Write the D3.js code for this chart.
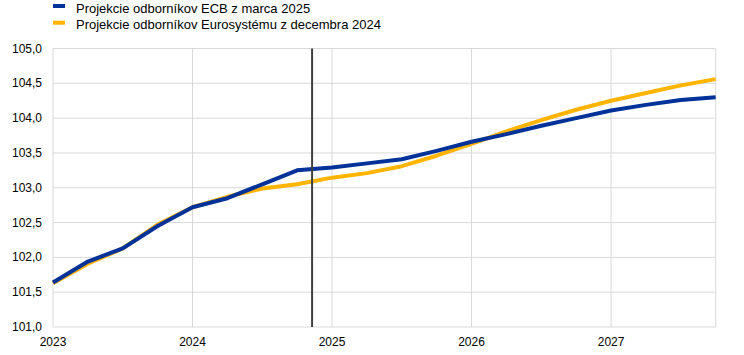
<!DOCTYPE html>
<html><head><meta charset="utf-8">
<script src="https://cdn.jsdelivr.net/npm/d3@7"></script>
<style>body{margin:0;background:#fff}svg{display:block}text{font-family:"Liberation Sans",Arial,sans-serif}</style>
</head><body><svg id="c" width="744" height="355"></svg>
<script>
const periods = d3.range(20).map(i => 2023 + i * 0.25); // quarterly, 2023Q1..2027Q4
const ecbMar2025 = [101.64,101.94,102.13,102.45,102.72,102.85,103.05,103.25,103.29,103.35,103.41,103.53,103.66,103.77,103.89,104.00,104.11,104.19,104.26,104.30];
const esDec2024  = [101.63,101.91,102.13,102.47,102.72,102.87,102.99,103.05,103.145,103.21,103.31,103.46,103.63,103.81,103.97,104.12,104.25,104.36,104.47,104.56];
const seriesNames = ["Projekcie odborníkov ECB z marca 2025","Projekcie odborníkov Eurosystému z decembra 2024"];
const xTicks = [2023,2024,2025,2026,2027];
const yTicks = [101,101.5,102,102.5,103,103.5,104,104.5,105];
const cutoff = 2024.857;

const svg = d3.select("#c");
const L=53,R=715.7,T=48.5,B=327;
const x = d3.scaleLinear().domain([2023,2027.75]).range([L,R]);
const y = d3.scaleLinear().domain([101,105]).range([B,T]);
const fmt = v => d3.format(".1f")(v).replace(".",",");
const grid="#d9d9d9";
const g = svg.append("g");
g.selectAll(".hg").data(yTicks).join("line").attr("x1",L).attr("x2",R).attr("y1",d=>y(d)).attr("y2",d=>y(d)).attr("stroke",grid).attr("stroke-width",1);
g.selectAll(".vg").data(xTicks.concat([2027.75])).join("line").attr("x1",d=>x(d)).attr("x2",d=>x(d)).attr("y1",T).attr("y2",B).attr("stroke",grid).attr("stroke-width",1);
g.selectAll(".yl").data(yTicks).join("text").attr("x",42).attr("y",d=>y(d)+4).attr("text-anchor","end").attr("font-size",12).attr("fill","#000").text(fmt);
g.selectAll(".xl").data(xTicks).join("text").attr("x",d=>x(d)).attr("y",346).attr("text-anchor","middle").attr("font-size",12).attr("fill","#000").text(d=>d);

const line = d3.line().x((d,i)=>x(periods[i])).y(d=>y(d)).curve(d3.curveLinear);
svg.append("path").attr("d",line(esDec2024)).attr("fill","none").attr("stroke","#FFB400").attr("stroke-width",4).attr("stroke-linejoin","round");
svg.append("path").attr("d",line(ecbMar2025)).attr("fill","none").attr("stroke","#003299").attr("stroke-width",4).attr("stroke-linejoin","round");
svg.append("line").attr("x1",x(cutoff)).attr("x2",x(cutoff)).attr("y1",T).attr("y2",B).attr("stroke","#404040").attr("stroke-width",2);

const colors=["#003299","#FFB400"];
const lg = svg.append("g");
seriesNames.forEach((n,i)=>{
  lg.append("rect").attr("x",53).attr("y",4+i*16.7).attr("width",12).attr("height",4).attr("fill",colors[i]);
  lg.append("text").attr("x",76).attr("y",12.5+i*16.7).attr("font-size",13).attr("fill","#000").text(n);
});
</script></body></html>
